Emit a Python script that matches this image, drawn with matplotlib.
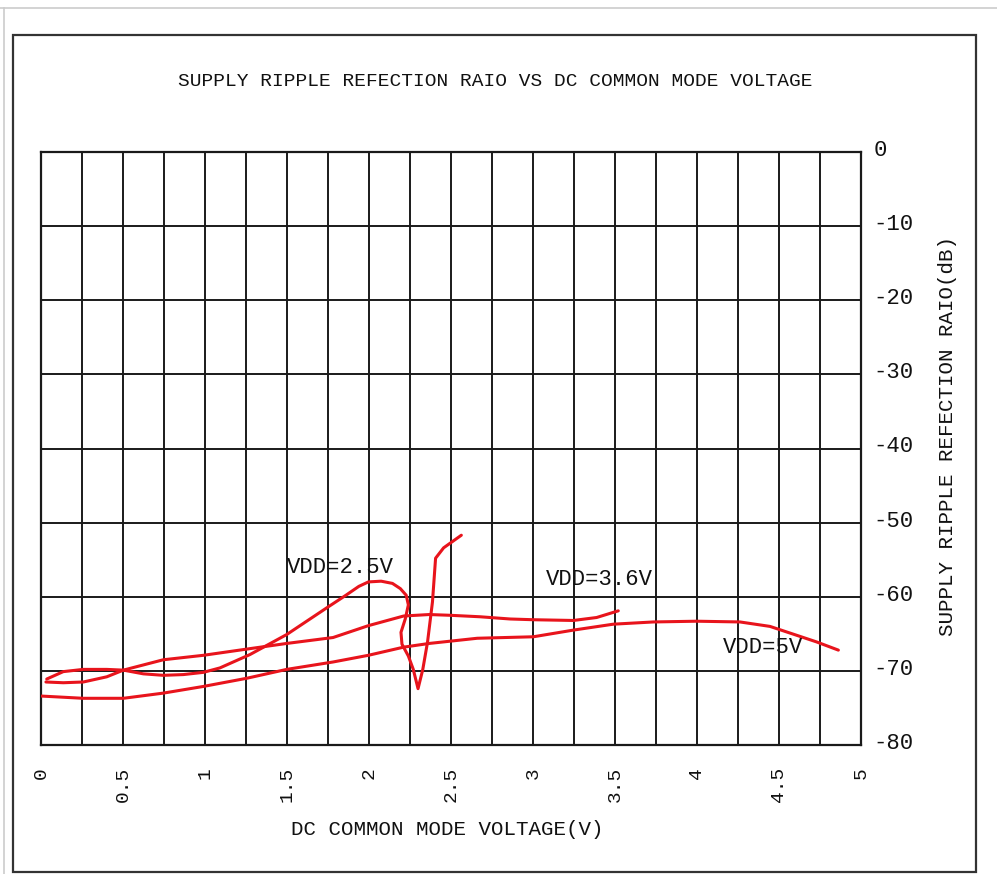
import numpy as np
import matplotlib
matplotlib.use("Agg")
import matplotlib.pyplot as plt
import matplotlib.transforms as mtransforms
from matplotlib.patches import Rectangle

plt.rcParams["font.family"] = ["Liberation Mono", "DejaVu Sans Mono"]

# curves (V, dB)
vdd25_x = [0.030, 0.136, 0.258, 0.401, 0.502, 0.624, 0.746, 0.868, 0.990, 1.091,
           1.274, 1.498, 1.742, 1.859, 1.938, 1.996, 2.074, 2.143, 2.191, 2.227,
           2.240, 2.221, 2.195, 2.201, 2.240, 2.270, 2.299, 2.328, 2.357, 2.387,
           2.406, 2.455, 2.563]
vdd25_y = [-71.5, -71.6, -71.5, -70.8, -69.9, -70.4, -70.6, -70.5, -70.2, -69.6,
           -67.8, -65.1, -61.5, -59.8, -58.6, -58.0, -57.9, -58.2, -58.9, -59.8,
           -61.1, -63.0, -64.8, -66.4, -68.0, -69.8, -72.4, -69.8, -66.1, -60.7,
           -54.8, -53.4, -51.7]

vdd36_x = [0.035, 0.136, 0.258, 0.401, 0.502, 0.624, 0.746, 0.990, 1.274, 1.498,
           1.781, 1.996, 2.211, 2.367, 2.494, 2.677, 2.860, 3.002, 3.246, 3.388, 3.520]
vdd36_y = [-71.1, -70.1, -69.8, -69.8, -69.9, -69.2, -68.5, -67.9, -67.0, -66.3,
           -65.5, -63.9, -62.6, -62.4, -62.5, -62.7, -63.0, -63.1, -63.2, -62.8, -61.9]

vdd5_x = [0.004, 0.258, 0.502, 0.746, 0.990, 1.254, 1.498, 1.781, 1.996, 2.211,
          2.367, 2.660, 3.002, 3.246, 3.490, 3.734, 3.998, 4.262, 4.445, 4.608,
          4.730, 4.862]
vdd5_y = [-73.4, -73.7, -73.7, -73.0, -72.1, -71.0, -69.8, -68.8, -67.9, -66.8,
          -66.3, -65.6, -65.4, -64.5, -63.7, -63.4, -63.3, -63.4, -64.0, -65.2,
          -66.1, -67.2]

curve_labels = ["VDD=2.5V", "VDD=3.6V", "VDD=5V"]
label_pos = [(1.823, -56.0), (3.402, -57.7), (4.402, -66.8)]

x_ticks = [0, 0.5, 1, 1.5, 2, 2.5, 3, 3.5, 4, 4.5, 5]
x_tick_labels = ["0", "0.5", "1", "1.5", "2", "2.5", "3", "3.5", "4", "4.5", "5"]
y_ticks = [0, -10, -20, -30, -40, -50, -60, -70, -80]
y_tick_labels = ["0", "-10", "-20", "-30", "-40", "-50", "-60", "-70", "-80"]

W, H = 997, 874
ink = "#111111"
fig = plt.figure(figsize=(W / 100, H / 100), dpi=100)
ax = fig.add_axes([41 / W, 1 - 745 / H, 820 / W, 593 / H])

red = "#e8141c"
for xs, ys in [(vdd25_x, vdd25_y), (vdd36_x, vdd36_y), (vdd5_x, vdd5_y)]:
    ax.plot(xs, ys, color=red, lw=2.2, solid_joinstyle="round", solid_capstyle="round", zorder=3)

for text, (lx, ly) in zip(curve_labels, label_pos):
    ax.text(lx, ly, text, fontsize=16, ha="center", va="center", color=ink, zorder=4)

ax.set_xlim(0, 5)
ax.set_ylim(-80, 0)
ax.set_xticks(x_ticks, labels=x_tick_labels, rotation=90, fontsize=14, color=ink)
ax.set_xticks(np.arange(0, 5.01, 0.25), minor=True)
ax.set_yticks(y_ticks, labels=y_tick_labels, fontsize=16, color=ink)
ax.yaxis.tick_right()
ax.tick_params(axis="both", which="both", length=0)
ax.tick_params(axis="x", pad=16)
ax.tick_params(axis="y", pad=9)
# labels on the right sit a little above their grid lines
shift = mtransforms.ScaledTranslation(0, 4 / 100, fig.dpi_scale_trans)
for lab in ax.get_yticklabels():
    lab.set_transform(lab.get_transform() + shift)
ax.grid(True, which="both", color="#1a1a1a", lw=1.4)
ax.set_axisbelow(True)
for s in ax.spines.values():
    s.set_color("#1a1a1a")
    s.set_linewidth(1.6)

ax.set_xlabel("DC COMMON MODE VOLTAGE(V)", fontsize=15, color=ink)
ax.xaxis.set_label_coords(0.496, -0.126)
ax.yaxis.set_label_position("right")
ax.set_ylabel("SUPPLY RIPPLE REFECTION RAIO(dB)", fontsize=15, color=ink)
ax.yaxis.set_label_coords(1.094, 0.521)

fig.text(495 / W, 1 - 81 / H, "SUPPLY RIPPLE REFECTION RAIO VS DC COMMON MODE VOLTAGE",
         fontsize=14, ha="center", va="center", color=ink)

# outer frame and faint page border
fig.patches.append(Rectangle((13 / W, 1 - 872 / H), 963 / W, 837 / H, transform=fig.transFigure,
                             fill=False, edgecolor="#333333", lw=1.6))
fig.add_artist(plt.Line2D([0, 1], [1 - 8 / H, 1 - 8 / H], transform=fig.transFigure,
                          color="#cccccc", lw=1.2))
fig.add_artist(plt.Line2D([4 / W, 4 / W], [0, 1 - 8 / H], transform=fig.transFigure,
                          color="#cccccc", lw=1.2))

fig.savefig("out.png", dpi=100)
